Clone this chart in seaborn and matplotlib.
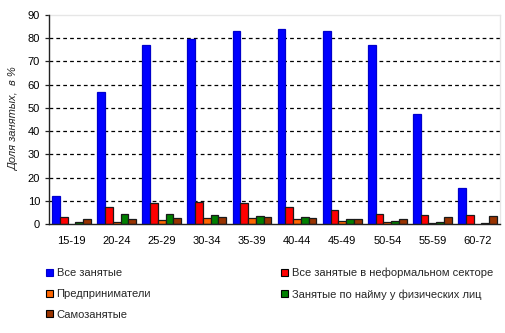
import numpy as np
import pandas as pd
import matplotlib
matplotlib.use("Agg")
import matplotlib.pyplot as plt
from matplotlib.patches import Patch
import seaborn as sns

ages = ["15-19", "20-24", "25-29", "30-34", "35-39", "40-44", "45-49", "50-54", "55-59", "60-72"]
all_employed = [12.1, 56.7, 77, 79.8, 83, 83.9, 83, 77, 47.3, 15.4]
informal = [3.0, 7.2, 8.9, 9.5, 9.0, 7.2, 5.9, 4.2, 3.7, 3.7]
entrepreneurs = [0.0, 1.0, 1.9, 2.7, 2.7, 2.2, 1.3, 0.9, 0.4, 0.0]
hired_individuals = [1.0, 4.3, 4.3, 3.9, 3.4, 3.0, 2.2, 1.3, 0.9, 0.4]
self_employed = [2.2, 2.2, 2.6, 3.0, 3.0, 2.6, 2.2, 2.2, 3.0, 3.4]

series_names = ["Все занятые", "Все занятые в неформальном секторе", "Предприниматели",
                "Занятые по найму у физических лиц", "Самозанятые"]
series_values = [all_employed, informal, entrepreneurs, hired_individuals, self_employed]
colors = ["#0000FF", "#FF0000", "#FF6600", "#008000", "#993300"]
edges = ["#0000CC", "#1a1a1a", "#1a1a1a", "#1a1a1a", "#1a1a1a"]
ylabel = "Доля занятых,  в %"

rows = []
for name, vals in zip(series_names, series_values):
    for a, v in zip(ages, vals):
        rows.append({"age": a, "series": name, "value": v})
df = pd.DataFrame(rows)

sns.set_style("white")
plt.rcParams["font.family"] = ["Liberation Sans", "DejaVu Sans"]

fig = plt.figure(figsize=(5.05, 3.33), dpi=100)
ax = fig.add_axes([49/505, 1-224/333, 451/505, 209/333])

sns.barplot(data=df, x="age", y="value", hue="series", hue_order=series_names,
            palette=colors, width=0.86, ax=ax, legend=False, errorbar=None, saturation=1)

for cont, ec in zip(ax.containers, edges):
    for bar in cont:
        bar.set_edgecolor(ec)
        bar.set_linewidth(0.9 if bar.get_height() > 0 else 0)
        bar.set_zorder(3)

ax.set_ylim(0, 90)
ax.set_xlim(-0.5, len(ages) - 0.5)
ax.set_yticks(np.arange(0, 91, 10))
ax.tick_params(axis="both", labelsize=8, colors="#000000", length=3, width=0.9, direction="out")
ax.tick_params(axis="x", which="major", length=0, pad=9)
ax.set_xticks(np.arange(-0.5, len(ages), 1.0), minor=True)
ax.tick_params(axis="x", which="minor", length=4, width=0.9, direction="out", color="#222222")
ax.tick_params(axis="y", left=True, length=3, color="#222222")
ax.set_xlabel("")
ax.set_ylabel(ylabel, fontsize=8, style="italic", labelpad=6)

for y in range(10, 90, 10):
    ax.axhline(y, color="#000000", linewidth=0.9, linestyle=(0, (3, 2.5)), zorder=1)

for s in ["left", "bottom"]:
    ax.spines[s].set_color("#222222")
    ax.spines[s].set_linewidth(1.0)
    ax.spines[s].set_zorder(4)
for s in ["top", "right"]:
    ax.spines[s].set_visible(True)
    ax.spines[s].set_color("#e6e6e6")
    ax.spines[s].set_linewidth(1.0)

order = [0, 2, 4, 1, 3]
handles = [Patch(facecolor=colors[i], edgecolor=("#000000" if i else "#0000CC"), linewidth=0.8)
           for i in order]
labels = [series_names[i] for i in order]
fig.legend(handles, labels, ncol=2, loc="upper left", bbox_to_anchor=(46/505, 1-268/333),
           frameon=False, fontsize=8, handlelength=0.6, handleheight=0.6, handletextpad=0.35,
           columnspacing=11.7, labelspacing=0.95, borderpad=0, borderaxespad=0)

fig.savefig("out.png", dpi=100, facecolor="white")
